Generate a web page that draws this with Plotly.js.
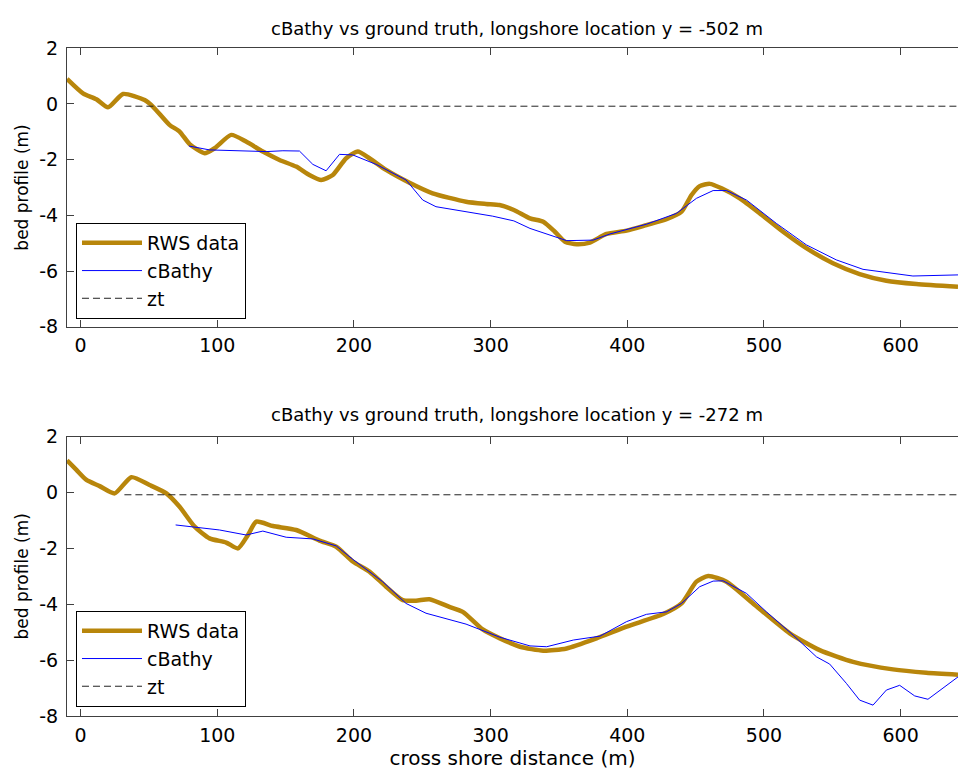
<!DOCTYPE html>
<html>
<head>
<meta charset="utf-8">
<script src="https://cdn.plot.ly/plotly-3.0.1.min.js"></script>
<style>
  html, body { margin: 0; padding: 0; background: #fff; overflow: hidden; }
  #chart { width: 958px; height: 773px; }
</style>
</head>
<body>
<div id="chart"></div>
<script>
// Cross-shore bed profiles: surveyed (RWS) vs cBathy estimate, two longshore transects.
const titleTop = 'cBathy vs ground truth, longshore location y = -502 m';
const titleBottom = 'cBathy vs ground truth, longshore location y = -272 m';
const xTickVals = [0, 100, 200, 300, 400, 500, 600];
const yTickVals = [-8, -6, -4, -2, 0, 2];
const yTickText = ['-8', '-6', '-4', '-2', '0', '2'];

// Transect y = -502 m
const rwsTopX = [-10, 1.7, 11.5, 20, 31, 46.8, 53, 65, 72.4, 79.7, 90.7, 98, 110.2, 121, 133.3, 145.5, 157.7, 167.4, 176, 184.5, 194.3, 202.8, 211.3, 223.5, 240.6, 257.6, 282, 296.6, 306.5, 317, 328.8, 338.5, 347, 354.4, 363, 372.6, 384.8, 399.5, 414, 428.7, 439.7, 447, 453, 460.4, 469, 482.3, 497, 514, 531, 550.5, 570, 589.6, 611.5, 642];
const rwsTopY = [0.9, 0.38, 0.17, -0.12, 0.36, 0.14, -0.1, -0.75, -0.99, -1.44, -1.77, -1.59, -1.11, -1.35, -1.71, -2.01, -2.25, -2.55, -2.73, -2.55, -1.95, -1.71, -1.95, -2.37, -2.83, -3.21, -3.51, -3.59, -3.63, -3.81, -4.11, -4.23, -4.59, -4.95, -5.04, -4.98, -4.67, -4.55, -4.35, -4.14, -3.87, -3.27, -2.95, -2.87, -3.03, -3.39, -3.93, -4.59, -5.18, -5.72, -6.11, -6.35, -6.47, -6.57];
const cbTopX = [79.2, 94.3, 135.8, 148, 160.1, 169.9, 179.6, 189.4, 199.1, 216.2, 238.1, 250.3, 260, 282, 301.5, 317, 328.8, 355.6, 375, 387.3, 414, 436, 450.6, 462.8, 472.6, 487.2, 509.1, 531, 552.9, 572.5, 592, 609, 642];
const cbTopY = [-1.51, -1.65, -1.71, -1.68, -1.69, -2.17, -2.4, -1.81, -1.83, -2.17, -2.73, -3.45, -3.69, -3.87, -4.03, -4.2, -4.47, -4.91, -4.89, -4.67, -4.32, -3.93, -3.39, -3.11, -3.11, -3.45, -4.29, -5.06, -5.6, -5.94, -6.08, -6.18, -6.14];

// Transect y = -272 m
const rwsBotX = [-10, -3.1, 4.2, 13.9, 24.9, 37.1, 50.4, 62.7, 72.4, 83.4, 94.3, 106.5, 115.1, 122.4, 128.5, 140.7, 157.7, 174.7, 187, 199.1, 211.3, 223.5, 235.7, 245.4, 255.2, 269.8, 279.6, 294.2, 306.8, 321.5, 338.5, 355.6, 377.5, 399.5, 426.3, 439.7, 450.6, 459.2, 472.6, 492, 518.9, 540.8, 565.2, 594.4, 618.8, 642];
const rwsBotY = [1.15, 0.81, 0.45, 0.23, -0.03, 0.55, 0.27, -0.03, -0.51, -1.22, -1.64, -1.79, -2.0, -1.52, -1.04, -1.2, -1.34, -1.72, -1.94, -2.47, -2.83, -3.37, -3.85, -3.87, -3.82, -4.09, -4.27, -4.9, -5.22, -5.52, -5.66, -5.58, -5.22, -4.8, -4.35, -3.97, -3.19, -2.99, -3.19, -3.97, -5.04, -5.64, -6.06, -6.33, -6.45, -6.52];
const cbBotX = [69.5, 87, 101.6, 121.1, 133.3, 150.4, 169.9, 187, 199.1, 221, 238.1, 252.7, 282, 306.8, 328.8, 341, 360.5, 380, 399.5, 414, 428.7, 439.7, 453, 462.8, 470.1, 487.2, 501.8, 521.3, 538.4, 548.1, 560.3, 570, 579.8, 589.6, 599.3, 610.3, 620, 642];
const cbBotY = [-1.16, -1.25, -1.34, -1.52, -1.38, -1.6, -1.66, -1.91, -2.39, -3.19, -3.97, -4.32, -4.71, -5.18, -5.49, -5.52, -5.28, -5.14, -4.62, -4.36, -4.27, -3.97, -3.37, -3.17, -3.16, -3.61, -4.27, -5.1, -5.88, -6.14, -6.83, -7.43, -7.61, -7.07, -6.9, -7.28, -7.4, -6.6];

// Tide level line
const ztX = [32, 650];
const ztY = [-0.08, -0.08];

const FONT = 'DejaVu Sans, Arial, sans-serif';
const GOLD = '#b8860b';
const AXIS = '#404040';

function profileTraces(xa, ya, legendId, rx, ry, cx, cy) {
  return [
    { x: rx, y: ry, xaxis: xa, yaxis: ya, legend: legendId, name: 'RWS data', mode: 'lines',
      line: { color: GOLD, width: 4.5, shape: 'spline', smoothing: 0.6 } },
    { x: cx, y: cy, xaxis: xa, yaxis: ya, legend: legendId, name: 'cBathy', mode: 'lines',
      line: { color: '#0000ff', width: 1 } },
    { x: ztX, y: ztY, xaxis: xa, yaxis: ya, legend: legendId, name: 'zt', mode: 'lines',
      line: { color: '#222', width: 1, dash: '7px,4px' } }
  ];
}

const data = [].concat(
  profileTraces('x', 'y', 'legend', rwsTopX, rwsTopY, cbTopX, cbTopY),
  profileTraces('x2', 'y2', 'legend2', rwsBotX, rwsBotY, cbBotX, cbBotY)
);

function xAxis(anchor, title) {
  const ax = {
    anchor: anchor, domain: [0, 1], range: [-10, 642],
    tickmode: 'array', tickvals: xTickVals,
    ticks: 'inside', ticklen: 7, tickcolor: AXIS, tickwidth: 1,
    showline: true, linecolor: AXIS, linewidth: 1, mirror: 'ticks',
    showgrid: false, zeroline: false, ticklabelstandoff: 2,
    tickfont: { family: FONT, size: 19, color: '#000' }
  };
  if (title) ax.title = { text: title, font: { family: FONT, size: 20, color: '#000' }, standoff: 4 };
  return ax;
}
function yAxis(anchor, domain) {
  return {
    anchor: anchor, domain: domain, range: [-8, 2],
    tickmode: 'array', tickvals: yTickVals, ticktext: yTickText,
    ticks: 'inside', ticklen: 7, tickcolor: AXIS, tickwidth: 1,
    showline: true, linecolor: AXIS, linewidth: 1, mirror: false,
    showgrid: false, zeroline: false, ticklabelstandoff: 4,
    tickfont: { family: FONT, size: 19, color: '#000' },
    title: { text: 'bed profile (m)', font: { family: FONT, size: 17, color: '#000' }, standoff: 6 }
  };
}
function legendBox(y) {
  return {
    x: 0.0101, xanchor: 'left', y: y, yanchor: 'bottom',
    bgcolor: '#fff', bordercolor: '#000', borderwidth: 1,
    font: { family: FONT, size: 19, color: '#000' },
    itemwidth: 60, tracegroupgap: 0
  };
}

const layout = {
  width: 958, height: 773,
  margin: { l: 67, r: 0, t: 0, b: 0 },
  paper_bgcolor: '#fff', plot_bgcolor: '#fff',
  showlegend: true,
  xaxis: xAxis('y'),
  yaxis: yAxis('x', [0.5774, 0.9375]),
  xaxis2: xAxis('y2', 'cross shore distance (m)'),
  yaxis2: yAxis('x2', [0.0737, 0.4351]),
  legend: legendBox(0.5873),
  legend2: legendBox(0.0854),
  annotations: [
    { text: titleTop, xref: 'paper', yref: 'paper', x: 0.505, y: 0.9625, xanchor: 'center', yanchor: 'middle',
      showarrow: false, font: { family: FONT, size: 18, color: '#000' } },
    { text: titleBottom, xref: 'paper', yref: 'paper', x: 0.505, y: 0.4644, xanchor: 'center', yanchor: 'middle',
      showarrow: false, font: { family: FONT, size: 18, color: '#000' } }
  ]
};

Plotly.newPlot('chart', data, layout, { displayModeBar: false, staticPlot: true });
</script>
</body>
</html>
